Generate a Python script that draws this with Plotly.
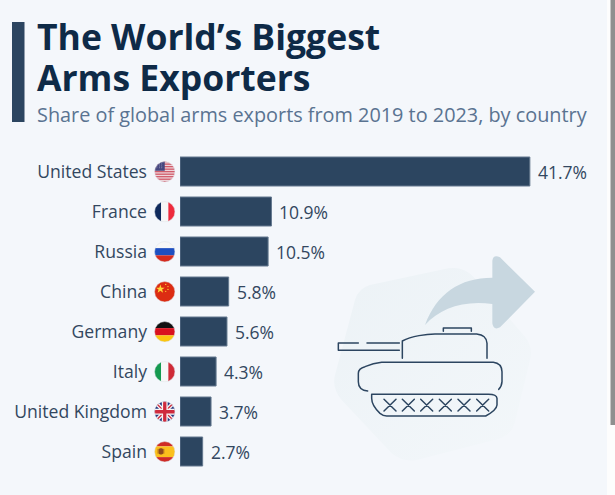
import base64
import plotly.graph_objects as go

countries = ["United States", "France", "Russia", "China", "Germany", "Italy", "United Kingdom", "Spain"]
shares = [41.7, 10.9, 10.5, 5.8, 5.6, 4.3, 3.7, 2.7]
title_lines = ["The World’s Biggest", "Arms Exporters"]
subtitle = "Share of global arms exports from 2019 to 2023, by country"

W, H = 615, 495
NAVY = "#2c4560"


def px(x):
    return x / W


def py(y):
    return 1 - y / H


def uri(svg):
    return "data:image/svg+xml;base64," + base64.b64encode(svg.encode()).decode()


def flag(body):
    return uri(
        '<svg xmlns="http://www.w3.org/2000/svg" width="84" height="84" viewBox="0 0 22 22">'
        '<defs><clipPath id="c"><circle cx="11" cy="11" r="10.4"/></clipPath></defs>'
        f'<g clip-path="url(#c)">{body}</g>'
        '<circle cx="11" cy="11" r="10.4" fill="none" stroke="#dfe3e8" stroke-width=".5"/></svg>'
    )


def rect(x, y, w, h, c):
    return f'<rect x="{x}" y="{y}" width="{w}" height="{h}" fill="{c}"/>'


us_stripes = "".join(rect(0, i * 1.7, 22, 0.85, "#c8374a") for i in range(13))
us = rect(0, 0, 22, 22, "#f6f6f8") + us_stripes + rect(0, 0, 11, 10, "#46477f") + "".join(
    f'<circle cx="{x}" cy="{y}" r=".4" fill="#fff"/>' for x in (3, 5.5, 8) for y in (3, 5, 7)
)
fr = rect(0, 0, 7.3, 22, "#0f2a5c") + rect(7.3, 0, 7.4, 22, "#f7f7f7") + rect(14.7, 0, 7.3, 22, "#ee2a3c")
ru = rect(0, 0, 22, 7.3, "#f7f7f7") + rect(0, 7.3, 22, 7.4, "#1d4fc0") + rect(0, 14.7, 22, 7.3, "#d52b1e")
cn = rect(0, 0, 22, 22, "#dc2c12") + (
    '<polygon points="6.5,3.5 7.6,6.8 11,6.8 8.3,8.8 9.3,12 6.5,10 3.7,12 4.7,8.8 2,6.8 5.4,6.8" fill="#ffd83a"/>'
    + "".join(f'<circle cx="{x}" cy="{y}" r=".65" fill="#ffd83a"/>' for x, y in [(12, 3.5), (14.3, 5.7), (14.3, 8.6), (12, 10.6)])
)
de = rect(0, 0, 22, 7.3, "#111") + rect(0, 7.3, 22, 7.4, "#d9121f") + rect(0, 14.7, 22, 7.3, "#fbc60f")
it = rect(0, 0, 7.3, 22, "#159a50") + rect(7.3, 0, 7.4, 22, "#f7f7f7") + rect(14.7, 0, 7.3, 22, "#cf2b37")
uk = rect(0, 0, 22, 22, "#27377f") + (
    '<path d="M0 0L22 22M22 0L0 22" stroke="#f5f5f5" stroke-width="4"/>'
    '<path d="M0 0L22 22M22 0L0 22" stroke="#cf2b3d" stroke-width="1.3"/>'
    '<path d="M11 0V22M0 11H22" stroke="#f5f5f5" stroke-width="6"/>'
    '<path d="M11 0V22M0 11H22" stroke="#cf2b3d" stroke-width="3.4"/>'
)
es = rect(0, 0, 22, 5.5, "#cf2b25") + rect(0, 5.5, 22, 11, "#fbc01c") + rect(0, 16.5, 22, 5.5, "#cf2b25") + (
    '<rect x="4.8" y="7.3" width="4.6" height="6.4" rx="1.6" fill="#8f4a1c"/>'
    '<rect x="3.7" y="8" width="1" height="5" fill="#a8641f"/><rect x="9.5" y="8" width="1" height="5" fill="#a8641f"/>'
)
flags = [us, fr, ru, cn, de, it, uk, es]

# tank drawing, coordinates are on a 3x grid of its 295x255 box
x_marks = "".join(
    f'M{c - 18} 478L{c + 18} 513M{c + 18} 478L{c - 18} 513' for c in (210, 265, 320, 376, 432, 488)
)
tank = uri(f'''<svg xmlns="http://www.w3.org/2000/svg" width="885" height="765" viewBox="0 0 885 765">
<defs><linearGradient id="g" x1="0" y1="0" x2="1" y2="1"><stop offset="0" stop-color="#ecf2f6"/><stop offset="1" stop-color="#f3f7fa"/></linearGradient></defs>
<path d="M150 135L385 85Q430 78 460 110L615 290Q640 320 630 360L585 545Q575 585 535 597L290 660Q250 668 215 640L65 480Q35 445 45 405L105 180Q115 145 150 135Z" fill="url(#g)"/>
<path d="M315 255C350 160 420 113 517 113V62Q520 42 540 52L645 155L540 262Q520 272 517 250V192C430 180 360 205 315 255Z" fill="#c8d7e0"/>
<g fill="none" stroke="{NAVY}" stroke-width="4.5" stroke-linecap="round" stroke-linejoin="round">
<path d="M115 309H55V331H238M141 309H238"/>
<path d="M247 355V303C275 288 320 282 345 282H470Q500 285 501 310V355"/>
<path d="M370 274V264H454V274"/>
<path d="M143 453Q115 450 115 425V400Q115 385 135 380Q160 370 185 367H520Q545 370 546 395V425Q545 440 536 448"/>
<path d="M155 463H505Q530 463 531 475V495Q530 510 497 528H200Q190 528 180 520Q155 497 155 475Z"/>
<path d="{x_marks}"/>
</g></svg>''')

fig = go.Figure(
    go.Bar(
        x=shares,
        y=countries,
        orientation="h",
        marker=dict(color=NAVY, line=dict(color="#64798f", width=1)),
        hoverinfo="skip",
    )
)

font = "Open Sans"
annotations = [
    dict(x=v, y=c, xref="x", yref="y", text=f"{v}%", showarrow=False, xanchor="left", xshift=6,
         font=dict(family=font, size=17.5, color="#33475f"))
    for c, v in zip(countries, shares)
]
for line, base in zip(title_lines, (36, 77)):
    annotations.append(dict(x=px(35), y=py(base), xref="paper", yref="paper", text=f"<b>{line}</b>", showarrow=False,
                            xanchor="left", yanchor="middle", font=dict(family=font, size=35.5, color="#0e2a47")))
annotations.append(dict(x=px(35), y=py(115), xref="paper", yref="paper", text=subtitle, showarrow=False,
                        xanchor="left", yanchor="middle", font=dict(family=font, size=19.85, color="#5a7391")))

images = [
    dict(source=flag(b), xref="paper", yref="paper", x=px(154), y=py(161 + i * 40), sizex=21.5 / W, sizey=21.5 / H,
         sizing="stretch", xanchor="left", yanchor="top", layer="above")
    for i, b in enumerate(flags)
]
images.append(dict(source=tank, xref="paper", yref="paper", x=px(320), y=py(240), sizex=295 / W, sizey=255 / H,
                   sizing="stretch", xanchor="left", yanchor="top", layer="below"))


def box(x0, y0, x1, y1, c):
    return dict(type="rect", xref="paper", yref="paper", x0=px(x0), x1=px(x1), y0=py(y0), y1=py(y1),
                fillcolor=c, line_width=0, layer="above")


shapes = [
    box(12, 22, 24.5, 122, NAVY),
    box(607, 0, 615, 495, "#fdfdfd"),
    box(610.5, 0, 615, 425, "#8f8f8f"),
]

fig.update_layout(
    width=W,
    height=H,
    margin=dict(l=0, r=0, t=0, b=0),
    paper_bgcolor="#f4f7fb",
    plot_bgcolor="rgba(0,0,0,0)",
    showlegend=False,
    bargap=0.275,
    annotations=annotations,
    images=images,
    shapes=shapes,
    xaxis=dict(domain=[px(180), 1], range=[0, 435 / 8.39], visible=False),
    yaxis=dict(domain=[py(471.5), py(151.5)], autorange="reversed", showline=False, showgrid=False, ticks="",
               ticklabelstandoff=32, tickfont=dict(family=font, size=17.6, color="#33475f")),
)

fig.write_html("out.html", config=dict(displayModeBar=False),
               post_script="document.body.style.margin='0';document.body.style.overflow='hidden';")
